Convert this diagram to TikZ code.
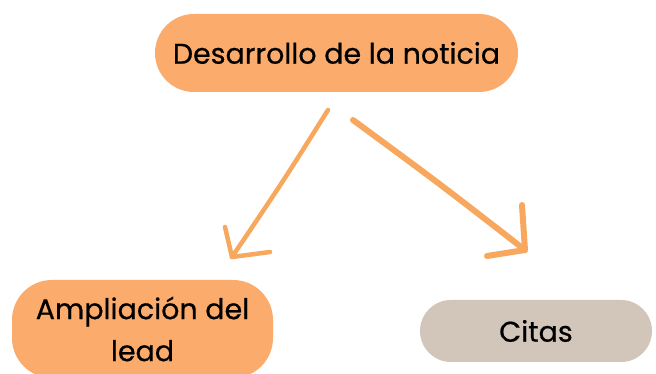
\documentclass[tikz,border=0pt]{standalone}
\usepackage{fontspec}
\setmainfont{Poppins}[FakeBold=0.6]
\usetikzlibrary{arrows.meta}
\definecolor{boxorange}{HTML}{FBAB6B}
\definecolor{boxgray}{HTML}{D2C5BA}
\definecolor{arroworange}{HTML}{F8A85E}
\tikzset{
  pill/.style={draw=none, inner sep=0pt, align=center, font=\fontsize{28.5}{42}\selectfont, text=black},
  arr/.style={draw=arroworange, line cap=round, line join=round},
}
\begin{document}
\begin{tikzpicture}[x=1pt,y=1pt]
\useasboundingbox (0,0) rectangle (656,374);
\clip (0,0) rectangle (656,374);
\fill[white] (0,0) rectangle (656,374);
\node[pill, fill=boxorange, minimum width=363pt, minimum height=78pt, rounded corners=39pt] (top) at (336.5,321) {Desarrollo de la noticia};
\node[pill, fill=boxorange, minimum width=261pt, minimum height=98pt, rounded corners=40pt] (amp) at (142.5,45) {Ampliación del\\lead};
\node[pill, fill=boxgray, minimum width=232pt, minimum height=62pt, rounded corners=31pt] (cit) at (536,43) {Citas};
\coordinate (la) at (328,264);
\coordinate (lb) at (232,117);
\coordinate (ra) at (353,254);
\coordinate (rb) at (525,124);
\draw[arr, line width=4.5pt] (la) .. controls (284,194) .. (lb);
\draw[arr, line width=4.5pt] (lb) ++(-7,30) -- (lb) -- ++(38,5);
\draw[arr, line width=6pt] (ra) .. controls (440,190) .. (rb);
\draw[arr, line width=6pt] (rb) ++(-3,45) -- (rb) -- ++(-38,-6);
\end{tikzpicture}
\end{document}
